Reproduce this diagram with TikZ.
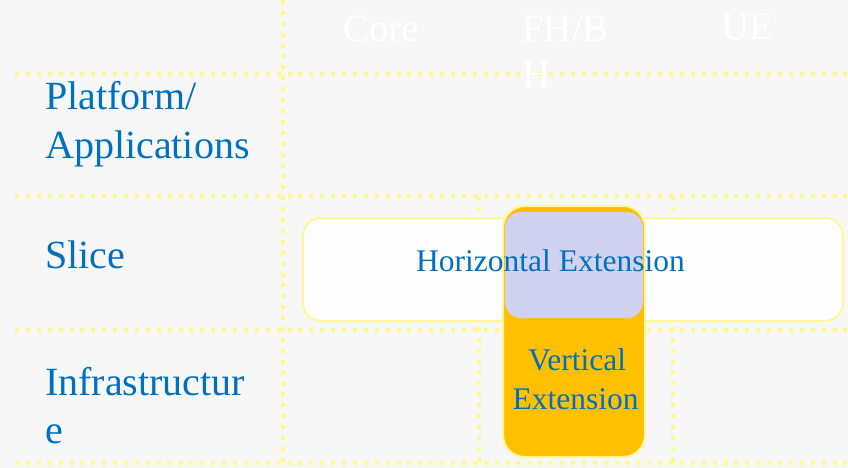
\documentclass[tikz,border=0pt]{standalone}
\usepackage{fontspec}
\setmainfont{Liberation Serif}
\definecolor{bgcol}{HTML}{F7F7F7}
\definecolor{gridcol}{HTML}{FFFA85}
\definecolor{edgecol}{HTML}{FFF799}
\definecolor{txtblue}{HTML}{0070C0}
\definecolor{vorange}{HTML}{FFC000}
\definecolor{lavender}{HTML}{D1D2EF}
\definecolor{boxwhite}{HTML}{FDFDFD}
\tikzset{
  gridline/.style={draw=gridcol, line width=4pt, dash pattern=on 4pt off 6.9pt},
  rowlabel/.style={inner sep=0pt, anchor=base west, text=txtblue, font=\fontsize{40}{48}\selectfont},
  headlabel/.style={inner sep=0pt, anchor=base west, text=white, font=\fontsize{39}{46}\selectfont},
  boxlabel/.style={inner sep=0pt, anchor=base, text=txtblue, font=\fontsize{31.5}{39}\selectfont},
  extbox/.style={draw=edgecol, line width=2pt}
}
\begin{document}
\begin{tikzpicture}[x=1pt,y=-1pt]
  % canvas
  \fill[bgcol] (0,0) rectangle (848,468);
  \useasboundingbox (0,0) rectangle (848,468);

  % table grid
  \draw[gridline] (15,74) -- (848,74);
  \draw[gridline] (15,196) -- (848,196);
  \draw[gridline] (15,330) -- (848,330);
  \draw[gridline] (15,463) -- (848,463);
  \draw[gridline] (283,0) -- (283,468);
  \draw[gridline] (479,196) -- (479,463);
  \draw[gridline] (673,196) -- (673,463);

  % column headers
  \node[headlabel] (core) at (343,42) {Core};
  \node[headlabel] (fhb) at (522,42) {FH/B};
  \node[headlabel] (fhh) at (522,88) {H};
  \node[headlabel] (ue) at (721,40) {UE};

  % row labels
  \node[rowlabel] (plat) at (45,110) {Platform/};
  \node[rowlabel] (apps) at (45,158) {Applications};
  \node[rowlabel] (slice) at (45,268) {Slice};
  \node[rowlabel] (infra) at (45,395) {Infrastructur};
  \node[rowlabel] (infrae) at (45,443) {e};

  % horizontal extension band
  \path[extbox, fill=boxwhite, rounded corners=18pt] (303,218) rectangle (843,321);
  % vertical extension band and its overlap with the horizontal one
  \path[extbox, fill=vorange, rounded corners=22pt] (503,206) rectangle (645,457);
  \fill[lavender, rounded corners=16pt] (505,212) rectangle (643,318);

  % band captions
  \node[boxlabel] (hext) at (550.5,271) {Horizontal Extension};
  \node[boxlabel] (vext1) at (577,370) {Vertical};
  \node[boxlabel] (vext2) at (575.5,409) {Extension};
\end{tikzpicture}
\end{document}
